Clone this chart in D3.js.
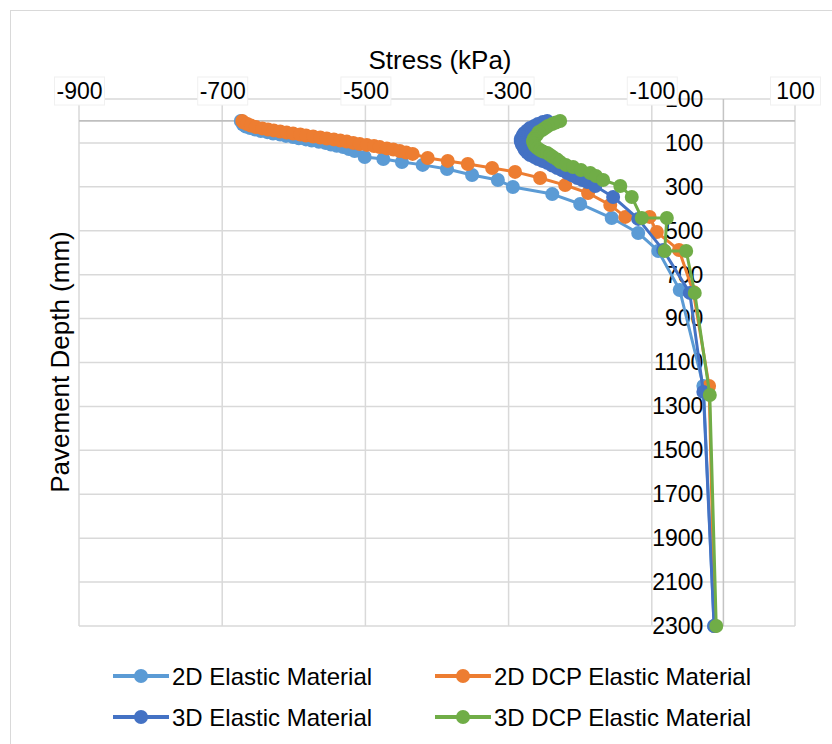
<!DOCTYPE html>
<html>
<head>
<meta charset="utf-8">
<script src="https://cdn.jsdelivr.net/npm/d3@7"></script>
<style>
  html, body { margin: 0; padding: 0; background: #fff; }
  svg { display: block; font-family: "Liberation Sans", Arial, sans-serif; }
</style>
</head>
<body>
<svg id="chart" width="832" height="744"></svg>
<script>
// Vertical stress vs. pavement depth, one [stress kPa, depth mm] pair per node
const elastic2D = [
  [-674, 0], [-671, 16], [-667, 25], [-661, 32], [-654, 39], [-646, 46], [-637, 51],
  [-629, 57], [-619, 62], [-611, 68], [-601, 73], [-593, 79], [-583, 84], [-575, 89],
  [-565, 95], [-556, 100], [-548, 107], [-540, 113], [-531, 119], [-523, 128],
  [-515, 137], [-501, 164], [-475, 173], [-449, 187], [-420, 200], [-386, 219],
  [-351, 246], [-315, 269], [-294, 301], [-239, 333], [-200, 378], [-156, 442],
  [-119, 510], [-91, 592], [-61, 770], [-28, 1207], [-13, 2300]
];
const dcpElastic2D = [
  [-672, 0], [-670, 7], [-665, 14], [-660, 21], [-653, 28], [-644, 34], [-636, 39],
  [-628, 43], [-619, 48], [-610, 53], [-601, 57], [-591, 62], [-583, 66], [-573, 71],
  [-563, 75], [-554, 80], [-544, 84], [-535, 89], [-526, 94], [-517, 100], [-508, 105],
  [-498, 109], [-488, 114], [-480, 119], [-470, 125], [-461, 130], [-452, 137],
  [-443, 144], [-434, 150], [-413, 169], [-385, 182], [-357, 196], [-323, 214],
  [-291, 232], [-256, 260], [-221, 292], [-189, 328], [-158, 383], [-137, 437],
  [-103, 437], [-93, 506], [-62, 588], [-42, 779], [-20, 1207], [-12, 2300]
];
const elastic3D = [
  [-246, 0], [-252, 5], [-259, 14], [-264, 23], [-270, 32], [-274, 43], [-278, 55],
  [-280, 64], [-281, 73], [-283, 82], [-283, 91], [-282, 100], [-281, 109], [-279, 121],
  [-277, 132], [-274, 144], [-270, 155], [-264, 164], [-259, 173], [-253, 182],
  [-246, 191], [-239, 203], [-232, 214], [-225, 225], [-218, 237], [-211, 248],
  [-204, 260], [-197, 269], [-190, 278], [-179, 296], [-154, 346], [-119, 446],
  [-84, 588], [-47, 783], [-28, 1234], [-13, 2300]
];
const dcpElastic3D = [
  [-228, 0], [-234, 7], [-239, 14], [-245, 23], [-249, 32], [-253, 41], [-258, 50],
  [-260, 62], [-263, 73], [-265, 82], [-266, 91], [-265, 103], [-263, 114], [-260, 123],
  [-256, 132], [-252, 139], [-246, 146], [-242, 155], [-238, 164], [-232, 176],
  [-228, 187], [-220, 200], [-210, 210], [-199, 223], [-186, 237], [-178, 251],
  [-168, 269], [-144, 296], [-128, 346], [-114, 442], [-79, 442], [-82, 592],
  [-52, 592], [-40, 783], [-19, 1248], [-10, 2300]
];

const seriesNames = ["2D Elastic Material", "2D DCP Elastic Material", "3D Elastic Material", "3D DCP Elastic Material"];
const seriesColors = ["#5B9BD5", "#ED7D31", "#4472C4", "#70AD47"];
const seriesData = [elastic2D, dcpElastic2D, elastic3D, dcpElastic3D];

const stressTicks = [-900, -700, -500, -300, -100, 100];
const depthTicks = [-100, 100, 300, 500, 700, 900, 1100, 1300, 1500, 1700, 1900, 2100, 2300];

const svg = d3.select("#chart");
const TICK_FONT = 23;
const LEGEND_FONT = 24;
const TITLE_FONT = 26;

const x = d3.scaleLinear().domain([-900, 100]).range([79, 795]);
const y = d3.scaleLinear().domain([-100, 2300]).range([99, 626]);

// chart frame
svg.append("rect")
  .attr("x", 10.5).attr("y", 10.5)
  .attr("width", 900).attr("height", 900)
  .attr("fill", "#fff").attr("stroke", "#d9d9d9").attr("stroke-width", 1);

// gridlines
const grid = svg.append("g");
grid.selectAll("line.v").data(stressTicks).join("line")
  .attr("class", "v")
  .attr("x1", d => x(d)).attr("x2", d => x(d))
  .attr("y1", y(-100)).attr("y2", y(2300))
  .attr("stroke", "#d9d9d9").attr("stroke-width", 1.5);
grid.selectAll("line.h").data(depthTicks).join("line")
  .attr("class", "h")
  .attr("x1", x(-900)).attr("x2", x(100))
  .attr("y1", d => y(d)).attr("y2", d => y(d))
  .attr("stroke", "#d9d9d9").attr("stroke-width", 1.5);

// axis lines crossing at zero
svg.append("line")
  .attr("x1", x(0)).attr("x2", x(0)).attr("y1", y(-100)).attr("y2", y(2300))
  .attr("stroke", "#c4c4c4").attr("stroke-width", 1.5);
svg.append("line")
  .attr("x1", x(-900)).attr("x2", x(100)).attr("y1", y(0)).attr("y2", y(0))
  .attr("stroke", "#bfbfbf").attr("stroke-width", 1.8);

// depth axis labels, sitting left of the zero-stress line
const yAxis = svg.append("g")
  .attr("transform", `translate(${x(0)},0)`)
  .call(d3.axisLeft(y).tickValues(depthTicks).tickSize(0).tickPadding(20).tickFormat(d => String(d)));
yAxis.select(".domain").remove();
yAxis.selectAll("text").attr("font-size", TICK_FONT).attr("fill", "#000")
  .attr("font-family", "'Liberation Sans', Arial, sans-serif");

// stress axis labels along the top, on white label boxes
const xAxis = svg.append("g")
  .attr("transform", `translate(0,${y(-100)})`)
  .call(d3.axisTop(x).tickValues(stressTicks).tickSize(0).tickPadding(0).tickFormat(d => String(d)));
xAxis.select(".domain").remove();
xAxis.selectAll(".tick").insert("rect", "text")
  .attr("x", -25).attr("y", -22).attr("width", 50).attr("height", 28)
  .attr("fill", "#fff").attr("stroke", "#f0f0f0").attr("stroke-width", 1);
xAxis.selectAll("text").attr("font-size", TICK_FONT).attr("fill", "#000")
  .attr("y", 0).attr("dy", 0)
  .attr("font-family", "'Liberation Sans', Arial, sans-serif");

// axis titles
svg.append("text")
  .attr("x", 440).attr("y", 69)
  .attr("text-anchor", "middle").attr("font-size", TITLE_FONT).attr("fill", "#000")
  .text("Stress (kPa)");
svg.append("text")
  .attr("transform", "translate(69,362) rotate(-90)")
  .attr("text-anchor", "middle").attr("font-size", TITLE_FONT).attr("fill", "#000")
  .text("Pavement Depth (mm)");

// series
const line = d3.line().x(d => x(d[0])).y(d => y(d[1]));
const seriesG = svg.append("g");
seriesData.forEach((data, i) => {
  const g = seriesG.append("g");
  g.append("path")
    .datum(data)
    .attr("d", line)
    .attr("fill", "none")
    .attr("stroke", seriesColors[i])
    .attr("stroke-width", 3)
    .attr("stroke-linejoin", "round");
  g.selectAll("circle").data(data).join("circle")
    .attr("cx", d => x(d[0])).attr("cy", d => y(d[1]))
    .attr("r", 7)
    .attr("fill", seriesColors[i]);
});

// legend
const legendX = [113, 435];
const legendY = [676, 717];
const legend = svg.append("g");
seriesNames.forEach((name, i) => {
  const lx = legendX[i % 2], ly = legendY[Math.floor(i / 2)];
  const item = legend.append("g").attr("transform", `translate(${lx},${ly})`);
  item.append("line")
    .attr("x1", 0).attr("x2", 56).attr("y1", 0).attr("y2", 0)
    .attr("stroke", seriesColors[i]).attr("stroke-width", 4);
  item.append("circle").attr("cx", 28).attr("cy", 0).attr("r", 7).attr("fill", seriesColors[i]);
  item.append("text")
    .attr("x", 59).attr("y", 8.5)
    .attr("font-size", LEGEND_FONT).attr("fill", "#000")
    .text(name);
});
</script>
</body>
</html>
